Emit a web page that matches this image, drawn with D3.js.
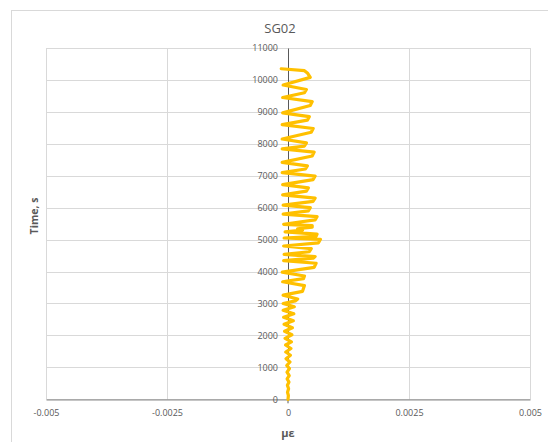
<!DOCTYPE html>
<html>
<head>
<meta charset="utf-8">
<script src="https://cdn.jsdelivr.net/npm/d3@7"></script>
<style>
  html, body { margin: 0; padding: 0; background: #fff; }
  svg { display: block; font-family: "Open Sans", "Liberation Sans", sans-serif; }
</style>
</head>
<body>
<svg id="chart" width="548" height="442"></svg>
<script>
// SG02 strain gauge record: time (s) against strain
const timeS = [
  0, 120, 220, 330, 440, 540, 640, 740, 850, 960,
  1060, 1170, 1270, 1380, 1480, 1590, 1700, 1800, 1910, 2020,
  2130, 2240, 2350, 2460, 2570, 2680, 2790, 2900, 3000, 3080,
  3140, 3260, 3380, 3560, 3680, 3780, 3860, 3980, 4130, 4260,
  4340, 4420, 4470, 4540, 4620, 4720, 4800, 4900, 5010, 5050,
  5100, 5170, 5240, 5300, 5340, 5390, 5440, 5480, 5620, 5720,
  5800, 5900, 6000, 6080, 6200, 6300, 6400, 6520, 6620, 6720,
  6880, 6990, 7100, 7210, 7310, 7420, 7620, 7740, 7840, 7930,
  8030, 8150, 8360, 8480, 8600, 8740, 8850, 8970, 9200, 9320,
  9450, 9600, 9700, 9840, 10080, 10220, 10290, 10350
];
const strain = [
  0, 0.000008, -0.00001, 0.000012, -0.000012, 0.00002, -0.000018, 0.000025, -0.00002, 0.00003,
  -0.000025, 0.00004, -0.00004, 0.00005, -0.000045, 0.00006, -0.00005, 0.00007, -0.00006, 0.00008,
  -0.00007, 0.00009, -0.00008, 0.00011, -0.00009, 0.00012, -0.0001, 0.00013, -0.0001, 0.00015,
  0.0002, -0.0001, 0.0003, 0.00034, -0.00011, 0.00032, 0.00034, -0.00012, 0.00054, 0.00058,
  -0.00009, 0.00052, 0.00056, -0.00008, 0.00044, 0.00048, -0.00009, 0.00063, 0.00067, -0.00008,
  0.00058, 0.0006, -0.00006, 0.0003, 0.0002, 0.0005, 0.0005, -0.00009, 0.00056, 0.0006,
  -0.0001, 0.00042, 0.00046, -0.0001, 0.00052, 0.00056, -0.00011, 0.00038, 0.00042, -0.00011,
  0.00052, 0.00056, -0.00012, 0.00036, 0.0004, -0.00012, 0.0005, 0.00054, -0.00012, 0.00034,
  0.00038, -0.00012, 0.00048, 0.00052, -0.00012, 0.0004, 0.00044, -0.00011, 0.00046, 0.0005,
  -0.00011, 0.00034, 0.00038, -0.0001, 0.00046, 0.0004, 0.00034, -0.00014
];
const xTicks = [-0.005, -0.0025, 0, 0.0025, 0.005];
const yTicks = [0, 1000, 2000, 3000, 4000, 5000, 6000, 7000, 8000, 9000, 10000, 11000];
const chartTitle = "SG02";
const xTitle = "με";
const yTitle = "Time, s";

const svg = d3.select("#chart");
const plot = { left: 46, right: 530, top: 48, bottom: 399.3 };

const x = d3.scaleLinear().domain([-0.005, 0.005]).range([plot.left, plot.right]);
const y = d3.scaleLinear().domain([0, 11000]).range([plot.bottom, plot.top]);

// chart frame
svg.append("rect")
  .attr("x", 11.5).attr("y", 10.5)
  .attr("width", 560).attr("height", 460)
  .attr("fill", "#fff").attr("stroke", "#d9d9d9").attr("stroke-width", 1);

// gridlines
const grid = svg.append("g").attr("stroke", "#d9d9d9").attr("stroke-width", 1);
grid.selectAll("line.h").data(yTicks.filter(d => d > 0)).join("line")
  .attr("x1", plot.left).attr("x2", plot.right)
  .attr("y1", d => Math.round(y(d)) + 0.5).attr("y2", d => Math.round(y(d)) + 0.5);
grid.selectAll("line.v").data(xTicks.filter(d => d !== 0)).join("line")
  .attr("y1", plot.top).attr("y2", plot.bottom)
  .attr("x1", d => Math.round(x(d)) + 0.5).attr("x2", d => Math.round(x(d)) + 0.5);

// x axis (at time 0)
const xAxis = svg.append("g")
  .attr("transform", `translate(0,${plot.bottom})`)
  .call(d3.axisBottom(x).tickValues(xTicks).tickSize(0).tickPadding(10)
    .tickFormat(d => d === 0 ? "0" : String(d)));
xAxis.select(".domain").attr("stroke", "#8c8c8c").attr("stroke-width", 1.3);
xAxis.selectAll("text").attr("fill", "#595959").attr("font-size", 9)
  .attr("font-family", "Open Sans, Liberation Sans, sans-serif");

// y axis (at strain 0)
const yAxis = svg.append("g")
  .attr("transform", `translate(${x(0)},0)`)
  .call(d3.axisLeft(y).tickValues(yTicks).tickSize(0).tickPadding(10)
    .tickFormat(d3.format("d")));
yAxis.select(".domain").attr("stroke", "#595959").attr("stroke-width", 1);
yAxis.selectAll("text").attr("fill", "#595959").attr("font-size", 9)
  .attr("font-family", "Open Sans, Liberation Sans, sans-serif");

// small tick under the zero of the x axis
svg.append("line")
  .attr("x1", x(0)).attr("x2", x(0))
  .attr("y1", plot.bottom).attr("y2", plot.bottom + 4)
  .attr("stroke", "#595959").attr("stroke-width", 1);

// strain trace
const pts = timeS.map((t, i) => [strain[i], t]);
svg.append("path")
  .datum(pts)
  .attr("fill", "none")
  .attr("stroke", "#FFC000")
  .attr("stroke-width", 3.2)
  .attr("stroke-linejoin", "round")
  .attr("stroke-linecap", "round")
  .attr("d", d3.line().x(d => x(d[0])).y(d => y(d[1])));

// titles
svg.append("text")
  .attr("x", 280).attr("y", 32.5)
  .attr("text-anchor", "middle")
  .attr("font-size", 13).attr("fill", "#595959")
  .text(chartTitle);

svg.append("text")
  .attr("transform", `translate(37.5,216) rotate(-90)`)
  .attr("text-anchor", "middle")
  .attr("font-size", 10.5).attr("font-weight", "bold").attr("fill", "#595959")
  .text(yTitle);

svg.append("text")
  .attr("x", x(0)).attr("y", 437)
  .attr("text-anchor", "middle")
  .attr("font-size", 11).attr("font-weight", "bold").attr("fill", "#595959")
  .text(xTitle);
</script>
</body>
</html>
